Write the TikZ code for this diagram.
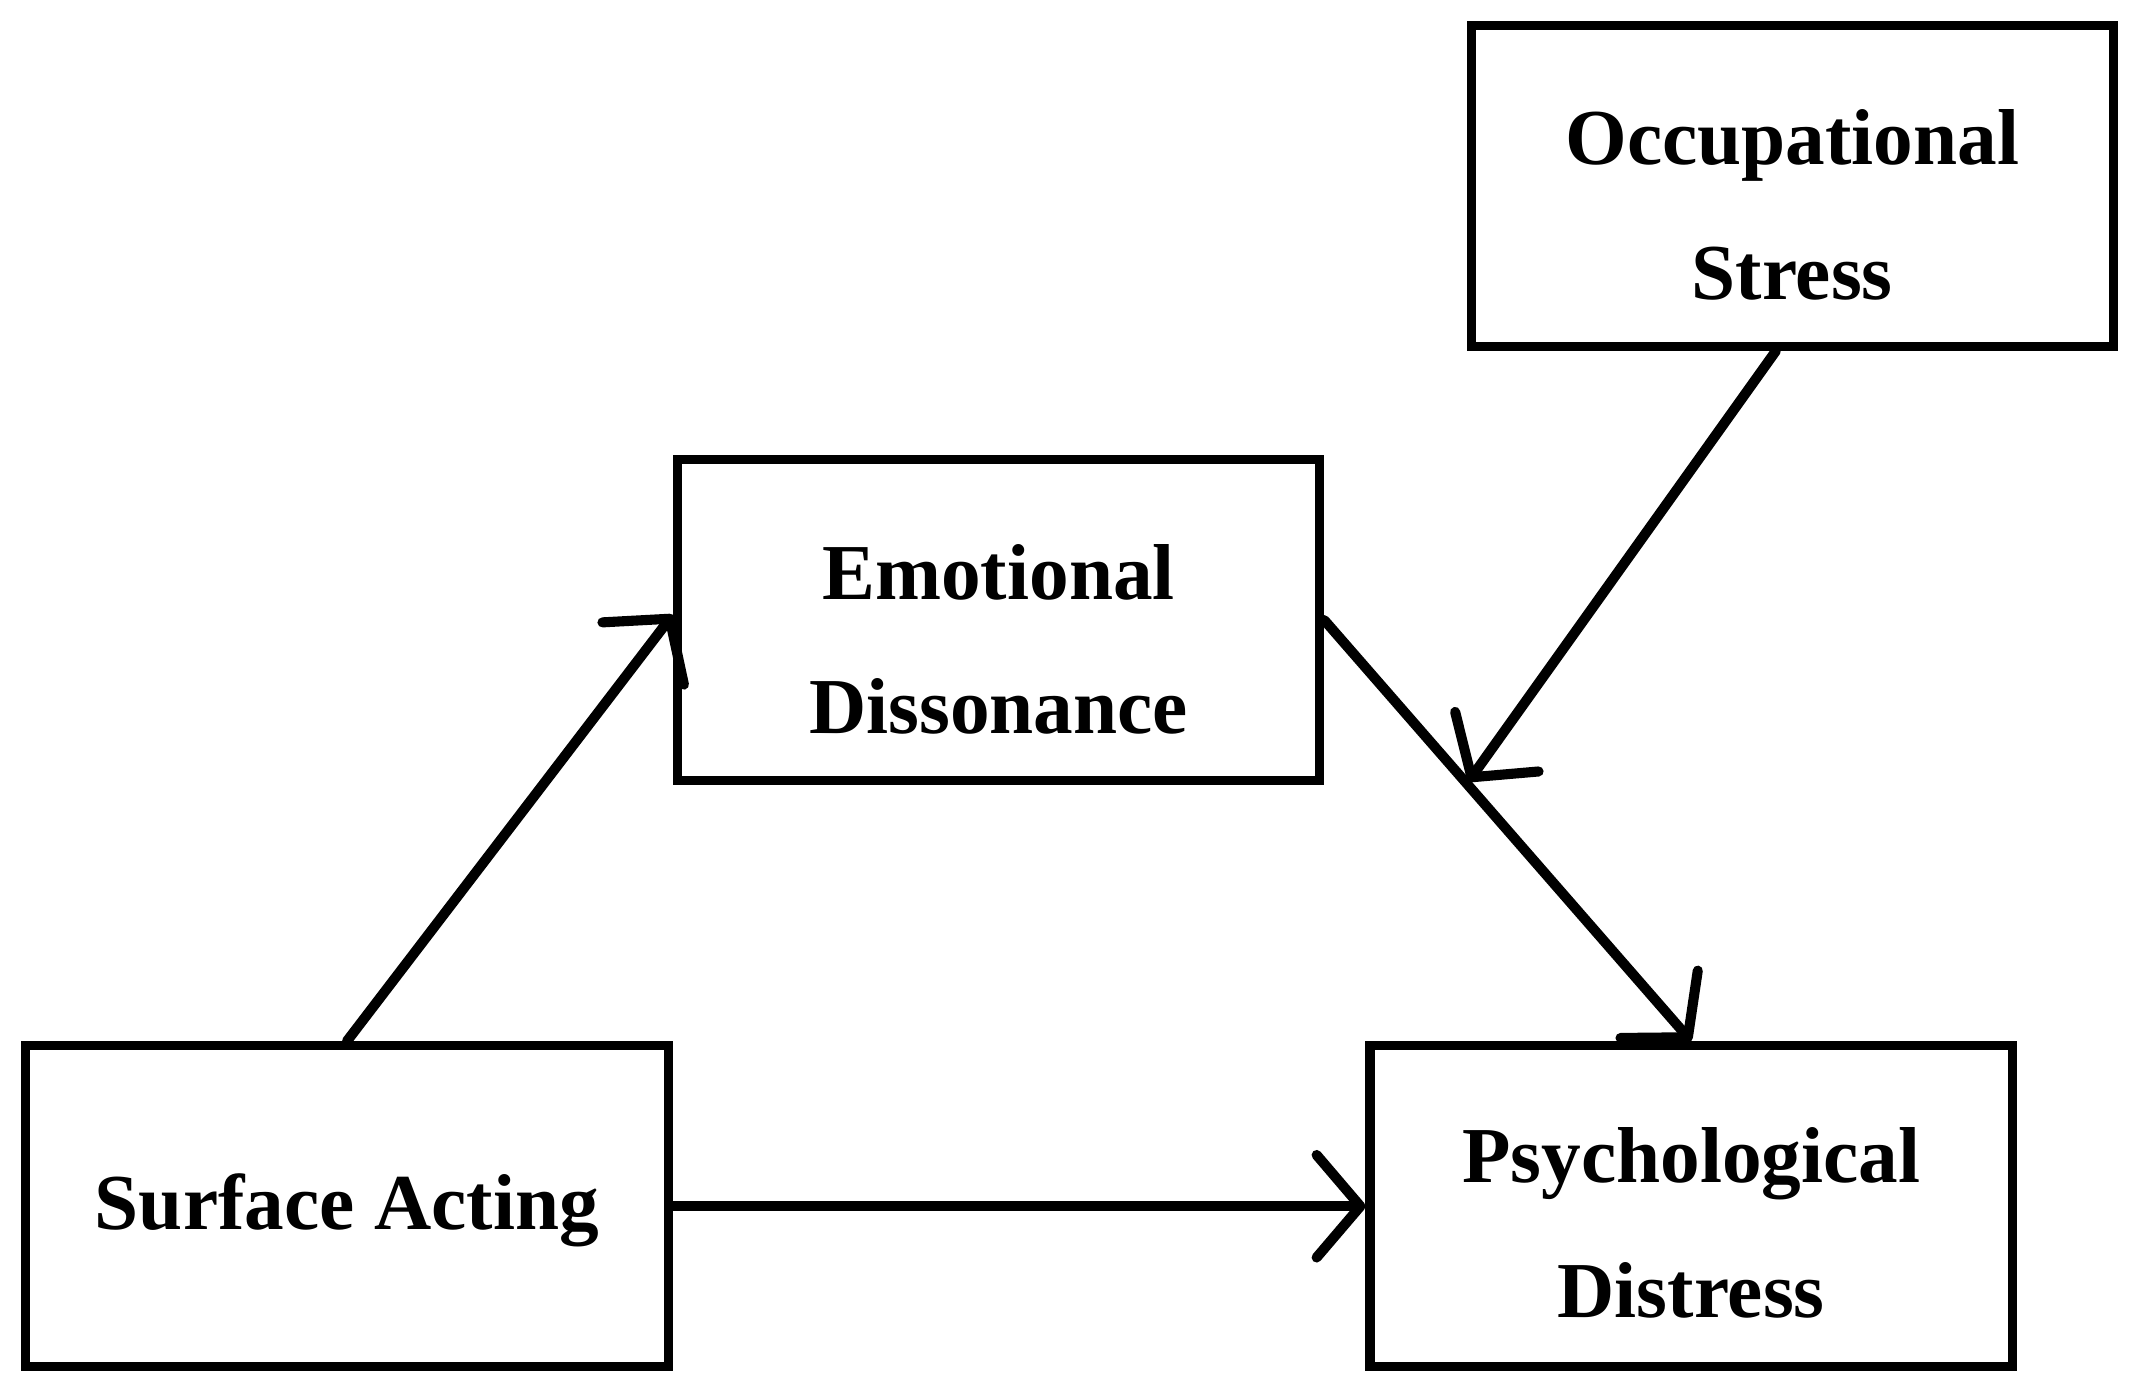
\documentclass[tikz,border=0pt]{standalone}
\usepackage{fontspec}
\setmainfont{Liberation Serif}
\usetikzlibrary{arrows.meta}
\begin{document}
\begin{tikzpicture}[x=0.01cm,y=-0.01cm,
  box/.style={draw,line width=1.9pt,minimum width=4.7cm,minimum height=2.35cm,align=center,text depth=0pt,font=\fontsize{16.5}{28}\selectfont\bfseries},
  lbl/.style={align=center,font=\fontsize{16.5}{28}\selectfont\bfseries},
  arr/.style={line width=2.1pt,line cap=round,-{Straight Barb[length=3.2mm,width=7.5mm,line width=2.1pt,round]}}]
\useasboundingbox (0,0) rectangle (1568,1021);
\node[box] (os) at (1312,136) {};
\node[box] (ed) at (731,454) {};
\node[box] (sa) at (254,883) {};
\node[box] (pd) at (1238,883) {};
\node[lbl] (ost) at (1312,150) {Occupational\\Stress};
\node[lbl] (edt) at (731,468) {Emotional\\Dissonance};
\node[lbl] (sat) at (254,886) {Surface Acting};
\node[lbl] (pdt) at (1238,895) {Psychological\\Distress};
\coordinate (m) at (1075,572);
\draw[arr] (sa.north) -- ([yshift=0.04cm]ed.west);
\draw[arr] (sa.east) -- (pd.west);
\draw[arr] (ed.east) -- (pd.north);
\draw[arr] ([xshift=-0.12cm]os.south) -- (m);
\end{tikzpicture}
\end{document}
